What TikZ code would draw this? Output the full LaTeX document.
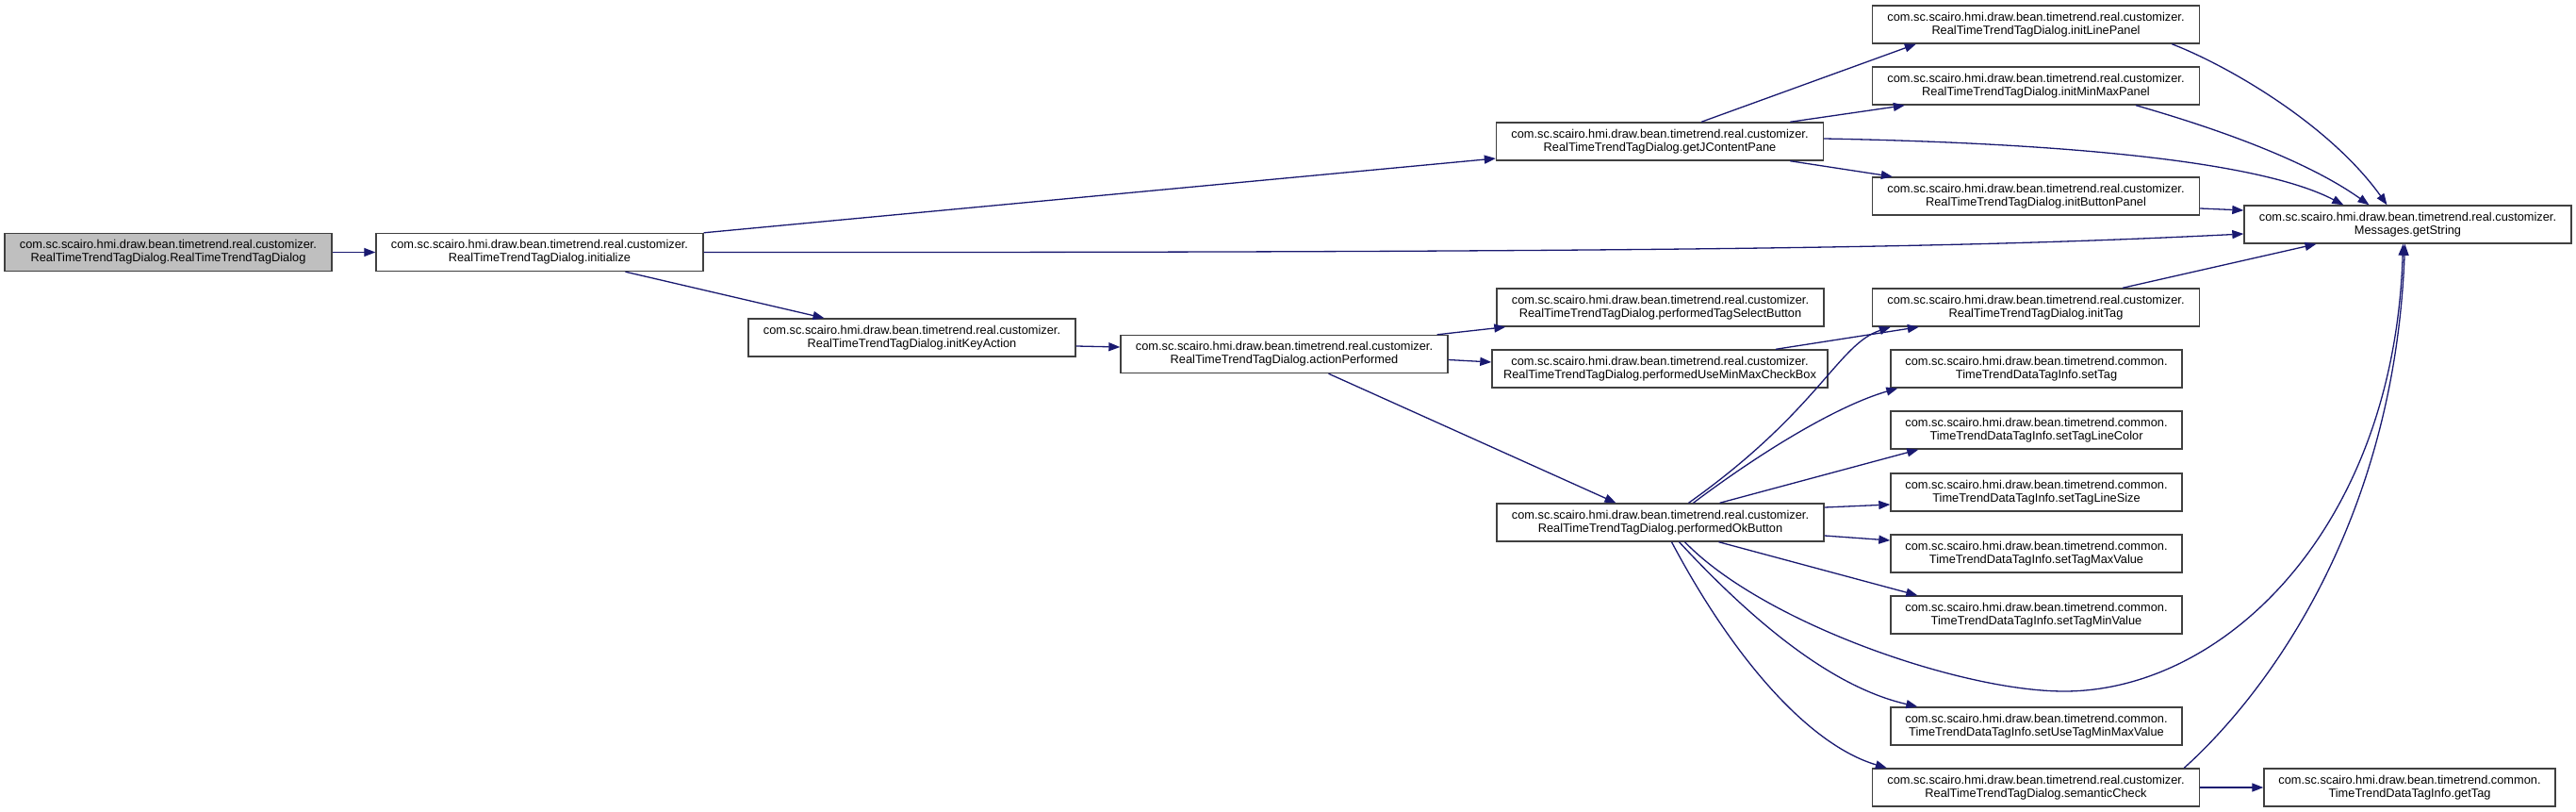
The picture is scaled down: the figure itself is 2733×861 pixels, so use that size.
\documentclass[tikz,border=0pt]{standalone}
\usepackage{fontspec}
\setmainfont{Liberation Sans}
\usepackage{tikz}
\usetikzlibrary{arrows.meta, positioning, calc}
\definecolor{edgeblue}{HTML}{191970}
\definecolor{rootgray}{HTML}{BFBFBF}

\begin{document}
\begin{tikzpicture}[
  x=1pt, y=-1pt,
  font=\fontsize{12.8}{14}\selectfont,
  fn/.style={rectangle, draw=black!75, line width=1.4pt, fill=white,
             minimum width=347pt, minimum height=40pt, inner sep=0pt, align=center},
  fnroot/.style={fn, fill=rootgray},
  fnshort/.style={fn, minimum width=309pt},
  call/.style={-{Triangle[length=12pt,width=9pt]}, edgeblue, line width=1.3pt}
]
\useasboundingbox (0,0) rectangle (2733,861);

% --- columns 0-3 ---
\node[fnroot] (ctor) at (178.5,267.5)
  {com.sc.scairo.hmi.draw.bean.timetrend.real.customizer.\\RealTimeTrendTagDialog.RealTimeTrendTagDialog};
\node[fn] (init) at (572.5,267.5)
  {com.sc.scairo.hmi.draw.bean.timetrend.real.customizer.\\RealTimeTrendTagDialog.initialize};
\node[fn] (keyact) at (967.5,358)
  {com.sc.scairo.hmi.draw.bean.timetrend.real.customizer.\\RealTimeTrendTagDialog.initKeyAction};
\node[fn] (actperf) at (1362.5,375.5)
  {com.sc.scairo.hmi.draw.bean.timetrend.real.customizer.\\RealTimeTrendTagDialog.actionPerformed};

% --- column 4 ---
\node[fn] (getpane) at (1761,150)
  {com.sc.scairo.hmi.draw.bean.timetrend.real.customizer.\\RealTimeTrendTagDialog.getJContentPane};
\node[fn] (tagsel) at (1761.5,326)
  {com.sc.scairo.hmi.draw.bean.timetrend.real.customizer.\\RealTimeTrendTagDialog.performedTagSelectButton};
\node[fn, minimum width=356pt] (minmaxcb) at (1761,391)
  {com.sc.scairo.hmi.draw.bean.timetrend.real.customizer.\\RealTimeTrendTagDialog.performedUseMinMaxCheckBox};
\node[fn] (okbtn) at (1761.5,554)
  {com.sc.scairo.hmi.draw.bean.timetrend.real.customizer.\\RealTimeTrendTagDialog.performedOkButton};

% --- column 5 ---
\foreach \n/\y/\m in {linepanel/26/initLinePanel, minmaxpanel/91/initMinMaxPanel,
                      btnpanel/208/initButtonPanel, inittag/326/initTag, semcheck/835/semanticCheck} {
  \node[fn] (\n) at (2160,\y)
    {com.sc.scairo.hmi.draw.bean.timetrend.real.customizer.\\RealTimeTrendTagDialog.\m};
}
\foreach \n/\y/\m in {settag/391/setTag, setcolor/456/setTagLineColor, setsize/522/setTagLineSize,
                      setmax/587/setTagMaxValue, setmin/652/setTagMinValue, setuse/770/setUseTagMinMaxValue} {
  \node[fnshort] (\n) at (2160.5,\y)
    {com.sc.scairo.hmi.draw.bean.timetrend.common.\\TimeTrendDataTagInfo.\m};
}

% --- column 6 ---
\node[fn] (getstr) at (2554.5,238)
  {com.sc.scairo.hmi.draw.bean.timetrend.real.customizer.\\Messages.getString};
\node[fnshort] (gettag) at (2556.5,835)
  {com.sc.scairo.hmi.draw.bean.timetrend.common.\\TimeTrendDataTagInfo.getTag};

% --- calls: constructor, initialize, initKeyAction ---
\draw[call] (ctor.east) -- (init.west);
\draw[call] (init.north east) -- ([yshift=-18pt]getpane.west);
\draw[call] (init.east) .. controls (1800,268) and (2100,262) .. ([yshift=-10pt]getstr.west);
\draw[call] ([xshift=91pt]init.south) -- ([xshift=-93pt]keyact.north);
\draw[call] ([yshift=-9pt]keyact.east) -- ([yshift=7.5pt]actperf.west);

% --- calls: actionPerformed ---
\draw[call] ([xshift=-12pt]actperf.north east) -- ([xshift=10pt]tagsel.south west);
\draw[call] ([yshift=-6pt]actperf.east) -- ([yshift=7pt]minmaxcb.west);
\draw[call] ([xshift=47pt]actperf.south) -- ([xshift=-47pt]okbtn.north);

% --- calls: getJContentPane ---
\draw[call] ([xshift=44pt]getpane.north) -- ([xshift=47pt]linepanel.south west);
\draw[call] ([xshift=-36pt]getpane.north east) -- ([xshift=35pt]minmaxpanel.south west);
\draw[call] ([yshift=3pt]getpane.east) .. controls (2200,152) and (2400,172) .. ([xshift=106pt]getstr.north west);
\draw[call] ([xshift=-36pt]getpane.south east) -- ([xshift=22pt]btnpanel.north west);

% --- calls into Messages.getString ---
\draw[call] ([xshift=-30pt]linepanel.south east) .. controls (2360,68) and (2470,130) .. ([xshift=-22pt]getstr.north);
\draw[call] ([xshift=106pt]minmaxpanel.south) .. controls (2330,130) and (2440,165) .. ([xshift=-41pt]getstr.north);
\draw[call] ([yshift=-13pt]btnpanel.east) -- ([yshift=15pt]getstr.west);
\draw[call] ([xshift=92pt]inittag.north) -- ([xshift=-97pt]getstr.south);

% --- calls: performedUseMinMaxCheckBox, performedOkButton ---
\draw[call] ([xshift=123pt]minmaxcb.north) -- ([xshift=50pt]inittag.south west);
\draw[call] ([xshift=30pt]okbtn.north) .. controls (1930,435) and (1950,365) .. ([xshift=20pt]inittag.south west);
\draw[call] ([xshift=35pt]okbtn.north) .. controls (1870,478) and (1950,430) .. ([xshift=8pt]settag.south west);
\draw[call] ([xshift=63pt]okbtn.north) -- ([xshift=30pt]setcolor.south west);
\draw[call] ([yshift=16pt]okbtn.east) -- ([yshift=-13pt]setsize.west);
\draw[call] ([yshift=-14pt]okbtn.east) -- ([yshift=14pt]setmax.west);
\draw[call] ([xshift=62pt]okbtn.south) -- ([xshift=29pt]setmin.north west);
\draw[call] ([xshift=26pt]okbtn.south) .. controls (1870,660) and (2080,733) .. (2190,733)
  .. controls (2360,733) and (2540,560) .. ([xshift=-5pt]getstr.south);
\draw[call] ([xshift=20pt]okbtn.south) .. controls (1870,670) and (1950,730) .. ([xshift=29pt]setuse.north west);
\draw[call] ([xshift=12pt]okbtn.south) .. controls (1840,700) and (1920,790) .. ([xshift=16pt]semcheck.north west);

% --- calls: semanticCheck ---
\draw[call] ([xshift=-17pt]semcheck.north east) .. controls (2400,740) and (2540,560) .. ([xshift=-3pt]getstr.south);
\draw[call] (semcheck.east) -- (gettag.west);
\end{tikzpicture}
\end{document}
